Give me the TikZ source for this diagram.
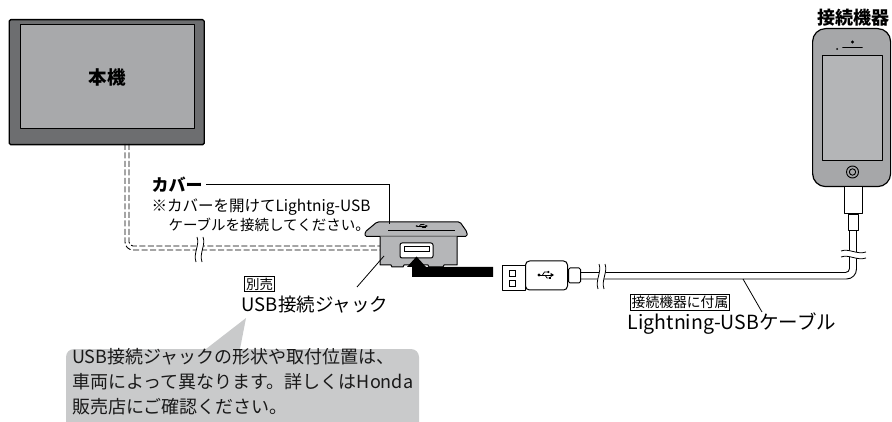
\documentclass[tikz,border=0pt]{standalone}
\usepackage{fontspec}
\setmainfont{Noto Sans CJK JP}
\definecolor{unitframe}{HTML}{6D6E70}
\definecolor{unitscreen}{HTML}{A8A9AB}
\definecolor{jackgray}{HTML}{B5B6B8}
\definecolor{notegray}{HTML}{C9CACB}
\definecolor{phonegray}{HTML}{A6A7A9}
\definecolor{phonescreen}{HTML}{B4B5B7}
\tikzset{
  outline/.style={draw=black, line width=1pt, line join=round},
  cabdash/.style={draw=black, line width=0.9pt, dash pattern=on 6pt off 2.5pt},
  cable/.style={draw=black, line width=0.9pt},
  leader/.style={draw=black, line width=0.8pt},
  tagbox/.style={draw=black, line width=0.8pt, inner sep=1.3pt, fill=white},
  % cable break mark: white gap between two wavy strokes
  cutmark/.pic={
    \fill[white] (-3,-12) .. controls (0,-4) and (-7,4) .. (-4,13)
      -- (2,13) .. controls (-1,4) and (6,-4) .. (3,-12) -- cycle;
    \draw[line width=0.8pt] (-3,-12) .. controls (0,-4) and (-7,4) .. (-4,13);
    \draw[line width=0.8pt] (3,-12) .. controls (6,-4) and (-1,4) .. (2,13);
  },
  % USB trident symbol
  usbicon/.pic={
    \draw[line width=0.8pt] (-7,0) -- (5,0);
    \fill (-7,0) circle (1.6);
    \fill (8,0) -- (4.5,-2.2) -- (4.5,2.2) -- cycle;
    \draw[line width=0.8pt] (-3.5,0) -- (-1.5,-3) -- (1.5,-3);
    \fill (2.3,-3) circle (1.2);
    \draw[line width=0.8pt] (-1,0) -- (1,3) -- (2.5,3);
    \fill (2.5,1.9) rectangle (4.7,4.1);
  },
}
\begin{document}
\begin{tikzpicture}[x=1pt,y=-1pt]
\useasboundingbox (0,0) rectangle (892,422);

% head unit
\node[outline, line width=1.4pt, fill=unitframe, rounded corners=1.5pt,
      minimum width=195pt, minimum height=125pt, inner sep=0, anchor=north west]
      (unit) at (8.5,19) {};
\node[outline, fill=unitscreen, minimum width=174pt, minimum height=104pt, inner sep=0,
      font=\bfseries\fontsize{18.5}{18.5}\selectfont] (screen) at (107,77) {本機};

% extension cable from the head unit (dashed, routed behind the panel)
\coordinate (cabout) at (125,144);
\coordinate (cabin) at (129,144);
\draw[cabdash, rounded corners=8] (cabout) -- (125,250) -- (381,250);
\draw[cabdash, rounded corners=4] (cabin) -- (129,246) -- (381,246);
\pic at (200,249) {cutmark};

% USB jack: lid
\draw[outline, fill=jackgray, rounded corners=1.5pt]
  (377,222) -- (460,222) -- (467,232) -- (467,236.5) -- (365,236.5) -- (365,232) -- cycle;
\draw[line width=0.7pt] (388,230.5) -- (455,230.5);
\pic[scale=0.75, yscale=0.7] at (422,226) {usbicon};
% USB jack: body
\draw[outline, fill=jackgray]
  (380,236.5) -- (380,265) -- (391,265) -- (392,267) -- (403,267) -- (404,265)
  -- (428,265) -- (429,267) -- (443,267) -- (444,265) -- (457,265) -- (457,236.5);
\node[outline, fill=white, rounded corners=2pt, minimum width=33pt, minimum height=15pt,
      inner sep=0] (port) at (416.5,250.5) {};
\draw[line width=0.8pt] (404,246) rectangle (429,251);
\coordinate (lid) at (389,224.5);
\coordinate (jackface) at (384,256);

% insertion arrow
\fill (493,267) -- (493,277) -- (412,277) -- (412,267) -- (407,267)
  -- (416.5,256.5) -- (426,267) -- cycle;

% USB plug of the Lightning cable
\node[outline, fill=white, minimum width=23pt, minimum height=25pt, inner sep=0,
      anchor=north west] (plugmetal) at (502,265) {};
\draw[line width=0.8pt] (509.5,270) rectangle (515.5,276);
\draw[line width=0.8pt] (509.5,280) rectangle (515.5,286);
\node[outline, fill=white, rounded corners=4pt, minimum width=42pt, minimum height=29pt,
      inner sep=0, anchor=north west] (plugbody) at (525,260.5) {};
\pic at (546,275) {usbicon};
\node[outline, fill=white, rounded corners=1.5pt, minimum width=12pt, minimum height=15pt,
      inner sep=0, anchor=west] (relief) at (plugbody.east) {};

% phone
\node[outline, line width=1.2pt, fill=phonegray, rounded corners=13pt,
      minimum width=78pt, minimum height=158pt, inner sep=0, anchor=north west]
      (phone) at (812,28) {};
\node[outline, fill=phonescreen, minimum width=60pt, minimum height=105pt, inner sep=0,
      anchor=north west] (phonescr) at (822,55) {};
\draw[line width=1.6pt, line cap=round] (843,47.5) -- (862,47.5);
\fill (852.5,42) circle (1.6);
\fill (837,49) circle (1);
\draw[line width=0.9pt] (852.5,172) circle (6);
\draw[line width=0.9pt] (852.5,172) circle (3.2);
\node[font=\bfseries\fontsize{18}{18}\selectfont] (devlabel) at (853,18) {接続機器};
\node[outline, fill=white, minimum width=18pt, minimum height=27pt, inner sep=0,
      anchor=north] (lconn) at (853,186) {};
\node[outline, fill=white, minimum width=10pt, minimum height=16pt, inner sep=0,
      anchor=north] (lneck) at (lconn.south) {};

% Lightning-USB cable
\draw[cable, rounded corners=10] (relief.east |- 0,279) -- (856.5,279) -- (lneck.south -| 856.5,0);
\draw[cable, rounded corners=4] (relief.east |- 0,272.5) -- (849.5,272.5) -- (lneck.south -| 849.5,0);
\pic at (602,276) {cutmark};
\pic[rotate=90] at (853,254) {cutmark};

% labels
\node[anchor=west, font=\bfseries\fontsize{17}{17}\selectfont] (cover) at (148,185) {カバー};
\draw[leader] (cover.east |- 0,184) -- (389,184) -- (lid);
\node[anchor=west, font=\fontsize{15.5}{15.5}\selectfont] (covernote1) at (148,207)
  {※カバーを開けてLightnig-USB};
\node[anchor=west, font=\fontsize{14.5}{14.5}\selectfont] (covernote2) at (165,225)
  {ケーブルを接続してください。};

\node[tagbox, font=\fontsize{13.5}{13.5}\selectfont] (opt) at (259.5,284) {別売};
\node[font=\fontsize{18.5}{18.5}\selectfont] (jacklabel) at (315,305) {USB接続ジャック};
\coordinate (jacklead) at (357,287);
\draw[leader] (jacklead) -- (jackface);

\node[tagbox, font=\fontsize{13.8}{13.8}\selectfont] (incl) at (680,302.5) {接続機器に付属};
\node[font=\fontsize{19.5}{19.5}\selectfont] (cablelabel) at (732,324) {Lightning-USBケーブル};
\coordinate (cablelead) at (762,312);
\draw[leader] (cablelead) -- (743,279);

% note balloon
\fill[notegray, rounded corners=8pt] (66,349) [sharp corners] -- (206,349) -- (246,318)
  -- (240,349) [rounded corners=8pt] -- (419,349) -- (419,440) -- (66,440) -- cycle;
\node[anchor=west, align=left, inner sep=0, text=black!90,
      font=\fontsize{18}{25}\selectfont] (note) at (72,382)
  {USB接続ジャックの形状や取付位置は、\\車両によって異なります。詳しくはHonda\\販売店にご確認ください。};
\end{tikzpicture}
\end{document}
